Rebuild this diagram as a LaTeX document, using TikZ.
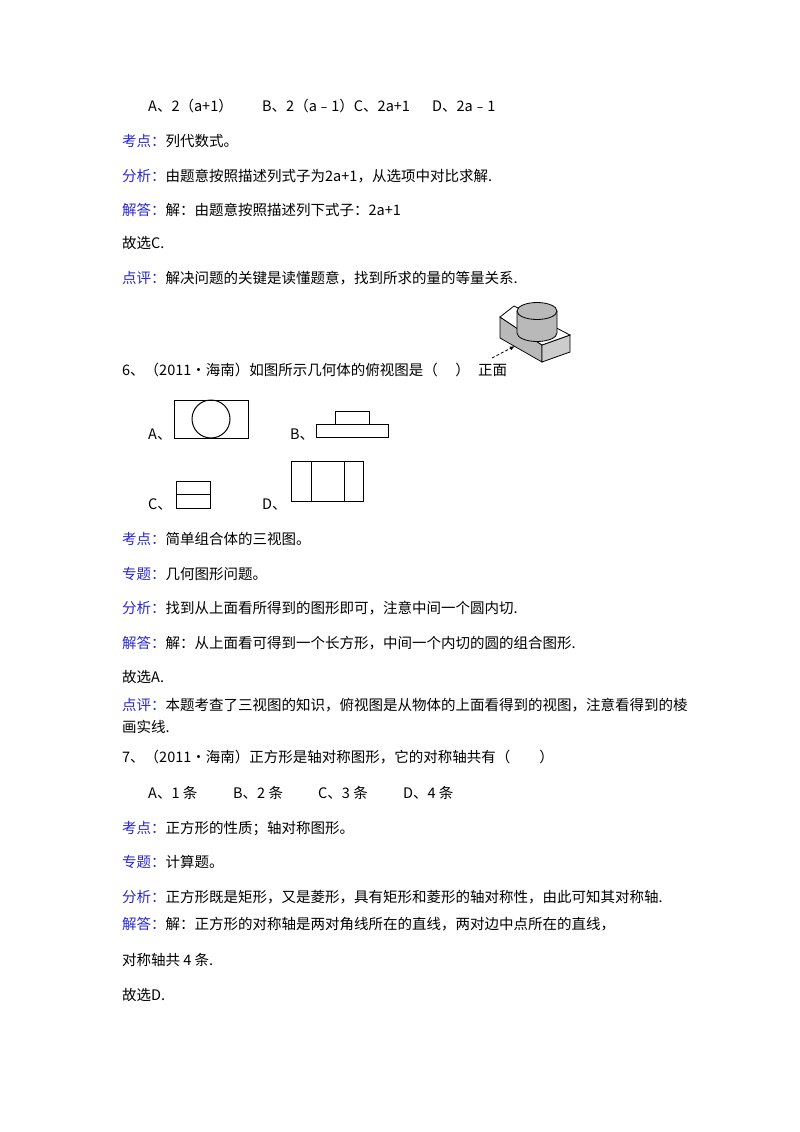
\documentclass[tikz,border=0pt]{standalone}
\usepackage{fontspec}
\setmainfont{Carlito}
\newfontfamily\cjk{Noto Sans CJK SC}
\definecolor{lab}{RGB}{40,40,210}
\newcommand{\Lb}[1]{{\color{lab}#1}}
\tikzset{txt/.style={anchor=base west,inner sep=0pt,font=\fontsize{14.5}{16}\selectfont\cjk},
 fig/.style={line width=1pt,draw=black},
 shade3d/.style={draw=black,line width=0.8pt,fill=gray!55}}
\begin{document}
\begin{tikzpicture}[x=1pt,y=-1pt]
\useasboundingbox (0,0) rectangle (800,1132);
\fill[white] (0,0) rectangle (800,1132);
\node[txt] (o1) at (148,111) {A、2（a+1）};
\node[txt] (o2) at (262,111) {B、2（a﹣1）C、2a+1};
\node[txt] (o3) at (432,111) {D、2a﹣1};
\node[txt] (t1) at (122,146) {\Lb{考点：}列代数式。};
\node[txt] (t2) at (122,181) {\Lb{分析：}由题意按照描述列式子为2a+1，从选项中对比求解.};
\node[txt] (t3) at (122,215) {\Lb{解答：}解：由题意按照描述列下式子：2a+1};
\node[txt] (t4) at (122,248) {故选C.};
\node[txt] (t5) at (122,283) {\Lb{点评：}解决问题的关键是读懂题意，找到所求的量的等量关系.};
\node[txt] (q6) at (122,375) {6、（2011•海南）如图所示几何体的俯视图是（\hspace{1.2em}）};
% 3D figure
\draw[shade3d] (500,317) -- (500,338) -- (542,362) -- (542,345) -- cycle;
\draw[shade3d,fill=gray!40] (542,345) -- (570,335) -- (570,352) -- (542,362) -- cycle;
\draw[draw=black,line width=0.8pt,fill=white] (500,317) -- (514,306) -- (570,335) -- (542,345) -- cycle;
\draw[shade3d] (517,311) -- (517,333) arc[start angle=180,end angle=0,x radius=20,y radius=8.5] -- (557,311);
\draw[shade3d] (537,311) ellipse[x radius=20,y radius=8.5];
\coordinate (arS) at (492,358);
\coordinate (arE) at (515,346);
\draw[-latex,line width=0.8pt,densely dashed] (arS) -- (arE);
\node[txt] (zm) at (478,375) {正面};
% options
\node[txt] (la) at (148,439) {A、};
\draw[fig] (174,400) rectangle (248,438);
\draw[fig] (211,419) circle[radius=19];
\node[txt] (lb) at (290,439) {B、};
\draw[fig] (335,411) rectangle (369,424);
\draw[fig] (316,424) rectangle (388,437);
\node[txt] (lc) at (148,509) {C、};
\draw[fig] (176,481) rectangle (210,508);
\draw[fig] (176,494) -- (210,494);
\node[txt] (ld) at (262,509) {D、};
\draw[fig] (291,461) rectangle (363,501);
\draw[fig] (311,461) -- (311,501);
\draw[fig] (344,461) -- (344,501);
\node[txt] (s1) at (122,544) {\Lb{考点：}简单组合体的三视图。};
\node[txt] (s2) at (122,579) {\Lb{专题：}几何图形问题。};
\node[txt] (s3) at (122,613) {\Lb{分析：}找到从上面看所得到的图形即可，注意中间一个圆内切.};
\node[txt] (s4) at (122,648) {\Lb{解答：}解：从上面看可得到一个长方形，中间一个内切的圆的组合图形.};
\node[txt] (s5) at (122,682) {故选A.};
\node[txt] (s6) at (122,710) {\Lb{点评：}本题考查了三视图的知识，俯视图是从物体的上面看得到的视图，注意看得到的棱};
\node[txt] (s7) at (122,732) {画实线.};
\node[txt] (q7) at (122,762) {7、（2011•海南）正方形是轴对称图形，它的对称轴共有（　　）};
\node[txt] (p1) at (148,798) {A、1 条};
\node[txt] (p2) at (233,798) {B、2 条};
\node[txt] (p3) at (318,798) {C、3 条};
\node[txt] (p4) at (403,798) {D、4 条};
\node[txt] (u1) at (122,833) {\Lb{考点：}正方形的性质；轴对称图形。};
\node[txt] (u2) at (122,867) {\Lb{专题：}计算题。};
\node[txt] (u3) at (122,902) {\Lb{分析：}正方形既是矩形，又是菱形，具有矩形和菱形的轴对称性，由此可知其对称轴.};
\node[txt] (u4) at (122,929) {\Lb{解答：}解：正方形的对称轴是两对角线所在的直线，两对边中点所在的直线，};
\node[txt] (u5) at (122,965) {对称轴共 4 条.};
\node[txt] (u6) at (122,1000) {故选D.};
\end{tikzpicture}
\end{document}
